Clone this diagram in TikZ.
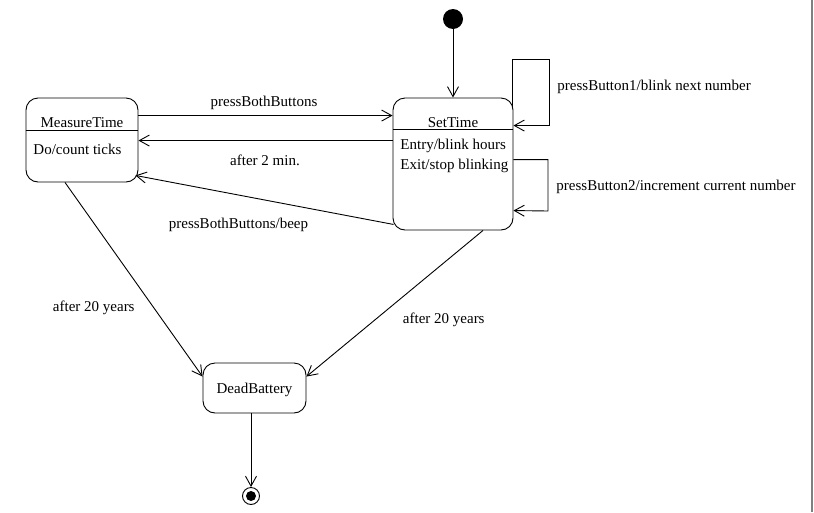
\documentclass[tikz,border=0pt]{standalone}
\usepackage{fontspec}
\setmainfont{Liberation Serif}
\usetikzlibrary{arrows.meta,calc}
\begin{document}
\begin{tikzpicture}[x=1pt,y=-1pt,
  line width=0.9pt,
  state/.style={draw, rectangle, rounded corners=12pt, inner sep=0pt},
  tr/.style={-{Straight Barb[length=10pt,width=11pt,line width=0.9pt]}},
  lbl/.style={inner sep=0pt, font=\fontsize{15}{17}\selectfont},
]
\useasboundingbox (0,0) rectangle (814,512);
\fill[white] (0,0) rectangle (814,512);
% page edge on the right
\draw[gray, line width=1.6pt] (812,0) -- (812,512);

% states
\node[state, minimum width=112pt, minimum height=84pt] (mt) at (82,140) {};
\node[state, minimum width=120pt, minimum height=132pt] (st) at (453,164) {};
\node[state, minimum width=103pt, minimum height=50pt] (db) at (254.5,388) {};
\node[circle, fill=black, minimum size=20pt, inner sep=0pt] (init) at (453,19) {};
\node[circle, draw, minimum size=17pt, inner sep=0pt] (fin) at (251,496) {};
\fill (fin.center) circle (5pt);

% compartment lines
\draw ($(mt.north west)+(0,33)$) -- ($(mt.north east)+(0,33)$);
\draw ($(st.north west)+(0,32)$) -- ($(st.north east)+(0,32)$);

% state texts
\node[lbl, anchor=base] (mtname) at (82,127) {MeasureTime};
\node[lbl, anchor=base west] (mtdo) at (33,154) {Do/count ticks};
\node[lbl, anchor=base] (stname) at (453,127) {SetTime};
\node[lbl, anchor=base west] (stentry) at (400,149) {Entry/blink hours};
\node[lbl, anchor=base west] (stexit) at (400,169) {Exit/stop blinking};
\node[lbl, anchor=base] (dbname) at (254.5,393) {DeadBattery};

% transitions
\draw[tr] (init) -- (st.north);
\draw[tr] ($(mt.north east)+(0,18)$) -- ($(st.north west)+(0,18)$);
\draw[tr] ($(st.north west)+(0,43)$) -- ($(mt.north east)+(0,43)$);
\draw[tr] ($(st.south west)+(1,-6)$) -- ($(mt.south east)+(-3,-7)$);
\draw[tr] ($(mt.south)+(-17,0)$) -- ($(db.north west)+(0,14)$);
\draw[tr] ($(st.south)+(30,0)$) -- ($(db.north east)+(0,14)$);
\draw[tr] (db.south -| fin.north) -- (fin.north);

% self transitions on SetTime
\coordinate (loopA) at (549,59);
\coordinate (loopB) at (548,211);
\draw[tr] ($(st.north east)+(-1,9)$) |- (loopA) |- ($(st.north east)+(0,28)$);
\draw[tr] ($(st.north east)+(0,62)$) -| (loopB) -- ($(st.north east)+(0,113)$);

% transition labels
\node[lbl, anchor=base] (l1) at (264,106) {pressBothButtons};
\node[lbl, anchor=base] (l2) at (265,165) {after 2 min.};
\node[lbl, anchor=base] (l3) at (238.5,228) {pressBothButtons/beep};
\node[lbl, anchor=base west] (l4) at (52.5,311.5) {after 20 years};
\node[lbl, anchor=base west] (l5) at (402.5,323) {after 20 years};
\node[lbl, anchor=base west] (l6) at (557,90.5) {pressButton1/blink next number};
\node[lbl, anchor=base west] (l7) at (556,190.5) {pressButton2/increment current number};
\end{tikzpicture}
\end{document}
